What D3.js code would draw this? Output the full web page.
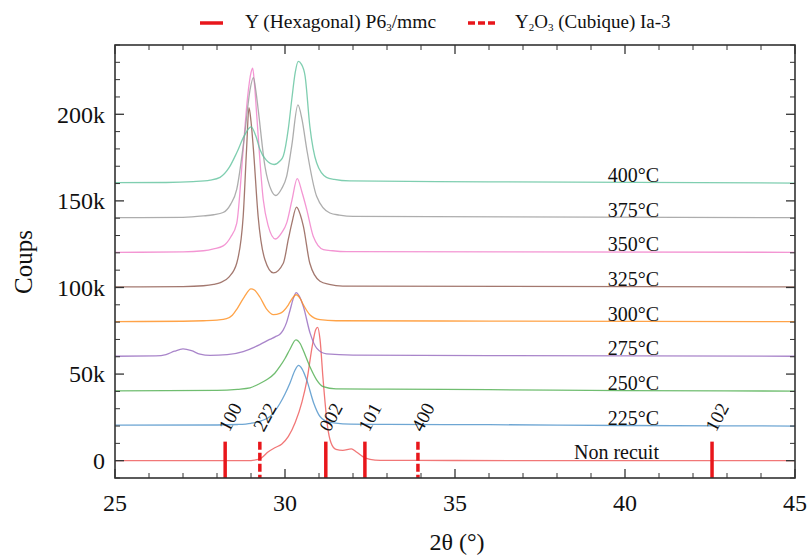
<!DOCTYPE html>
<html>
<head>
<meta charset="utf-8">
<script src="https://cdn.jsdelivr.net/npm/d3@7"></script>
<style>
  html, body { margin: 0; padding: 0; background: #fff; }
  svg { display: block; }
  svg text { font-family: "Liberation Serif", "Times New Roman", serif; }
</style>
</head>
<body>
<svg id="chart" width="811" height="555"></svg>
<script>
// ---------------- DATA ----------------
const seriesNames = ["Non recuit", "225°C", "250°C", "275°C", "300°C", "325°C", "350°C", "375°C", "400°C"];
const seriesOffsets = [0, 20000, 40000, 60000, 80000, 100000, 120000, 140000, 160000];
const seriesColors = ["#ee5555", "#4a90c8", "#4cad4c", "#9467bd", "#ff8c1a", "#8c564b", "#f07cc8", "#999999", "#5fc29c"];

const nonRecuit = [[25,0],[28.9,0],[29.1,300],[29.3,1500],[29.5,5000],[29.7,7500],[29.9,9500],[30.1,14000],[30.3,22000],[30.5,34000],[30.65,47000],[30.8,66000],[30.9,75500],[30.96,77000],[31.03,70000],[31.12,47000],[31.25,20000],[31.35,10500],[31.5,6500],[31.7,6000],[31.95,6800],[32.1,5000],[32.3,2200],[32.5,800],[32.8,200],[35,100],[45,0]];
const t225 = [[25,20500],[28.0,20600],[28.6,20900],[29.0,21600],[29.3,23000],[29.56,25500],[29.85,33000],[30.0,38500],[30.15,45000],[30.3,52500],[30.4,55000],[30.5,53000],[30.64,46500],[30.84,33500],[31.03,25500],[31.3,22200],[31.7,21300],[33,21000],[36,20800],[40,20300],[45,20000]];
const t250 = [[25,40300],[28.0,40600],[28.6,41200],[28.97,42000],[29.2,44000],[29.46,46700],[29.7,50500],[29.85,54400],[30.0,59000],[30.15,64500],[30.32,69800],[30.45,67500],[30.53,64000],[30.73,54400],[30.93,46700],[31.12,42800],[31.5,41500],[33,41300],[36,41000],[40,40500],[45,40200]];
const t275 = [[25,60300],[26.2,60500],[26.5,61300],[26.75,63200],[27.0,64500],[27.25,63500],[27.5,61500],[27.8,60800],[28.3,61200],[28.77,63000],[29.26,67000],[29.55,70000],[29.71,71500],[29.85,73000],[29.95,75500],[30.05,80000],[30.15,87000],[30.25,94000],[30.33,97000],[30.42,95000],[30.54,89000],[30.74,73500],[30.93,65000],[31.22,61700],[32,61000],[36,60700],[45,60300]];
const t300 = [[25,80300],[27.0,80500],[27.6,80800],[28.0,81200],[28.28,82000],[28.45,84000],[28.6,88000],[28.8,94500],[29.0,99200],[29.1,98500],[29.26,94500],[29.46,87500],[29.66,84300],[29.85,85000],[29.95,86300],[30.1,90000],[30.2,93300],[30.33,95800],[30.45,93500],[30.54,90000],[30.73,84300],[31.03,81400],[31.5,80800],[36,80600],[45,80300]];
const t325 = [[25,100300],[27.0,100500],[27.6,101000],[27.9,101800],[28.1,102800],[28.35,106000],[28.58,114000],[28.77,141000],[28.87,180000],[28.94,203800],[29.0,196000],[29.07,180000],[29.21,141000],[29.41,116000],[29.66,108400],[29.95,114000],[30.1,128000],[30.2,137000],[30.34,146400],[30.45,142000],[30.54,135400],[30.73,114000],[31.03,103600],[31.3,101800],[31.7,100800],[45,100300]];
const t350 = [[25,120300],[27.0,120500],[27.6,121200],[27.9,122300],[28.18,124000],[28.4,129000],[28.58,137000],[28.77,179700],[28.9,210000],[29.0,224000],[29.05,226600],[29.1,218000],[29.17,199000],[29.36,150800],[29.5,136000],[29.72,128000],[29.9,131500],[30.05,137300],[30.2,150000],[30.36,162800],[30.5,155000],[30.64,145000],[30.83,129600],[31.13,121900],[31.4,121200],[31.8,120700],[45,120300]];
const t375 = [[25,140300],[27.0,140500],[27.6,141300],[27.9,142000],[28.18,143300],[28.4,148000],[28.58,156700],[28.82,189400],[28.97,214000],[29.07,221200],[29.14,214000],[29.21,203000],[29.41,170000],[29.6,156000],[29.73,153100],[29.9,157000],[30.05,164300],[30.2,182000],[30.38,205400],[30.5,197000],[30.64,179800],[30.93,152700],[31.32,143000],[31.6,141800],[32.0,141000],[45,140300]];
const t400 = [[25,160500],[26.5,160600],[27.3,161100],[27.8,162000],[28.09,163600],[28.35,169000],[28.58,177800],[28.8,187500],[29.0,192700],[29.15,187000],[29.26,179800],[29.45,173500],[29.68,171000],[29.85,173000],[29.95,175900],[30.1,192000],[30.2,208700],[30.3,224000],[30.39,230500],[30.48,229000],[30.59,222200],[30.73,193200],[30.93,172000],[31.22,163600],[31.45,162400],[31.9,161500],[36,161000],[45,160300]];
const seriesData = [nonRecuit, t225, t250, t275, t300, t325, t350, t375, t400];

// reference peaks
const hexLabels = ["100", "002", "101", "102"];
const hexPositions = [28.24, 31.2, 32.35, 42.56];
const cubLabels = ["222", "400"];
const cubPositions = [29.26, 33.91];
const refMarkerRange = [-10000, 11000];

const xDomain = [25, 45];
const yDomain = [-10000, 240000];
const xMajorTicks = [25, 30, 35, 40, 45];
const yMajorTicks = [0, 50000, 100000, 150000, 200000];
const yTickLabels = ["0", "50k", "100k", "150k", "200k"];

// ---------------- LAYOUT ----------------
const FONT = "Liberation Serif, Times New Roman, serif";
const svg = d3.select("#chart");
const L = 115, R = 795, T = 45, B = 478;
const x = d3.scaleLinear().domain(xDomain).range([L, R]);
const y = d3.scaleLinear().domain(yDomain).range([B, T]);

const xMinor = d3.range(26, 45, 1).filter(v => !xMajorTicks.includes(v));
const yMinor = d3.range(-10000, 240001, 10000).filter(v => !yMajorTicks.includes(v));

const plot = svg.append("g");
plot.append("clipPath").attr("id", "clip").append("rect")
  .attr("x", L).attr("y", T).attr("width", R - L).attr("height", B - T);

// curves
const line = d3.line().x(d => x(d[0])).y(d => y(d[1])).curve(d3.curveMonotoneX);
const curves = plot.append("g").attr("clip-path", "url(#clip)");
seriesData.forEach((s, i) => {
  curves.append("path").datum(s)
    .attr("d", line)
    .attr("fill", "none")
    .attr("stroke", seriesColors[i])
    .attr("stroke-opacity", 0.8)
    .attr("stroke-width", 1.3);
});

// series labels
seriesNames.forEach((n, i) => {
  svg.append("text")
    .attr("x", 659).attr("y", y(seriesOffsets[i]) - 1.5)
    .attr("text-anchor", "end")
    .attr("font-family", FONT)
    .attr("font-size", 20)
    .attr("fill", "#111")
    .text(n);
});

// reference markers
const markers = plot.append("g");
hexPositions.forEach((p) => {
  markers.append("line")
    .attr("x1", x(p)).attr("x2", x(p))
    .attr("y1", y(refMarkerRange[0])).attr("y2", y(refMarkerRange[1]))
    .attr("stroke", "#e8161b").attr("stroke-width", 3.5);
});
cubPositions.forEach((p) => {
  markers.append("line")
    .attr("x1", x(p)).attr("x2", x(p))
    .attr("y1", y(refMarkerRange[1])).attr("y2", y(refMarkerRange[0]))
    .attr("stroke", "#e8161b").attr("stroke-width", 3.5)
    .attr("stroke-dasharray", "8,3");
});
const allLabels = hexLabels.map((l, i) => [l, hexPositions[i]]).concat(cubLabels.map((l, i) => [l, cubPositions[i]]));
allLabels.forEach(([l, p]) => {
  const tx = x(p) + 4, ty = y(refMarkerRange[1]) - 9;
  svg.append("text")
    .attr("transform", `translate(${tx},${ty}) rotate(-62)`)
    .attr("font-family", FONT)
    .attr("font-size", 19)
    .attr("fill", "#111")
    .text(l);
});

// axes frame + ticks (inward, all four sides)
const axisColor = "#333";
const ax = svg.append("g").attr("stroke", axisColor);
ax.append("rect").attr("x", L).attr("y", T).attr("width", R - L).attr("height", B - T)
  .attr("fill", "none").attr("stroke-width", 1.6);
xMajorTicks.forEach(v => {
  ax.append("line").attr("x1", x(v)).attr("x2", x(v)).attr("y1", B).attr("y2", B - 9).attr("stroke-width", 1.3);
  ax.append("line").attr("x1", x(v)).attr("x2", x(v)).attr("y1", T).attr("y2", T + 9).attr("stroke-width", 1.3);
});
xMinor.forEach(v => {
  ax.append("line").attr("x1", x(v)).attr("x2", x(v)).attr("y1", B).attr("y2", B - 5).attr("stroke-width", 1);
  ax.append("line").attr("x1", x(v)).attr("x2", x(v)).attr("y1", T).attr("y2", T + 5).attr("stroke-width", 1);
});
yMajorTicks.forEach(v => {
  ax.append("line").attr("x1", L).attr("x2", L + 9).attr("y1", y(v)).attr("y2", y(v)).attr("stroke-width", 1.3);
  ax.append("line").attr("x1", R).attr("x2", R - 9).attr("y1", y(v)).attr("y2", y(v)).attr("stroke-width", 1.3);
});
yMinor.forEach(v => {
  ax.append("line").attr("x1", L).attr("x2", L + 5).attr("y1", y(v)).attr("y2", y(v)).attr("stroke-width", 1);
  ax.append("line").attr("x1", R).attr("x2", R - 5).attr("y1", y(v)).attr("y2", y(v)).attr("stroke-width", 1);
});

// tick labels
xMajorTicks.forEach(v => {
  svg.append("text").attr("x", x(v)).attr("y", 511)
    .attr("text-anchor", "middle").attr("font-family", FONT).attr("font-size", 24).attr("fill", "#111").text(String(v));
});
yMajorTicks.forEach((v, i) => {
  svg.append("text").attr("x", L - 10).attr("y", y(v)).attr("dy", "0.35em")
    .attr("text-anchor", "end").attr("font-family", FONT).attr("font-size", 24).attr("fill", "#111").text(yTickLabels[i]);
});

// axis titles
svg.append("text").attr("x", 457).attr("y", 550).attr("text-anchor", "middle")
  .attr("font-family", FONT).attr("font-size", 24).attr("fill", "#111").text("2θ (°)");
svg.append("text").attr("transform", "translate(32,262) rotate(-90)").attr("text-anchor", "middle")
  .attr("font-family", FONT).attr("font-size", 25).attr("fill", "#111").text("Coups");

// legend
const lg = svg.append("g");
lg.append("line").attr("x1", 200).attr("x2", 223).attr("y1", 23).attr("y2", 23)
  .attr("stroke", "#e8161b").attr("stroke-width", 3.5);
const t1 = lg.append("text").attr("x", 245).attr("y", 28).attr("font-family", FONT).attr("font-size", 19.5).attr("fill", "#111");
t1.append("tspan").text("Y (Hexagonal) P6");
t1.append("tspan").attr("font-size", 11).attr("dy", 3).text("3");
t1.append("tspan").attr("dy", -3).text("/mmc");
lg.append("line").attr("x1", 468).attr("x2", 495).attr("y1", 23).attr("y2", 23)
  .attr("stroke", "#e8161b").attr("stroke-width", 3.5).attr("stroke-dasharray", "7,3");
const t2 = lg.append("text").attr("x", 515).attr("y", 28).attr("font-family", FONT).attr("font-size", 19).attr("fill", "#111");
t2.append("tspan").text("Y");
t2.append("tspan").attr("font-size", 11).attr("dy", 3).text("2");
t2.append("tspan").attr("dy", -3).text("O");
t2.append("tspan").attr("font-size", 11).attr("dy", 3).text("3");
t2.append("tspan").attr("dy", -3).text(" (Cubique) Ia-3");
</script>
</body>
</html>
